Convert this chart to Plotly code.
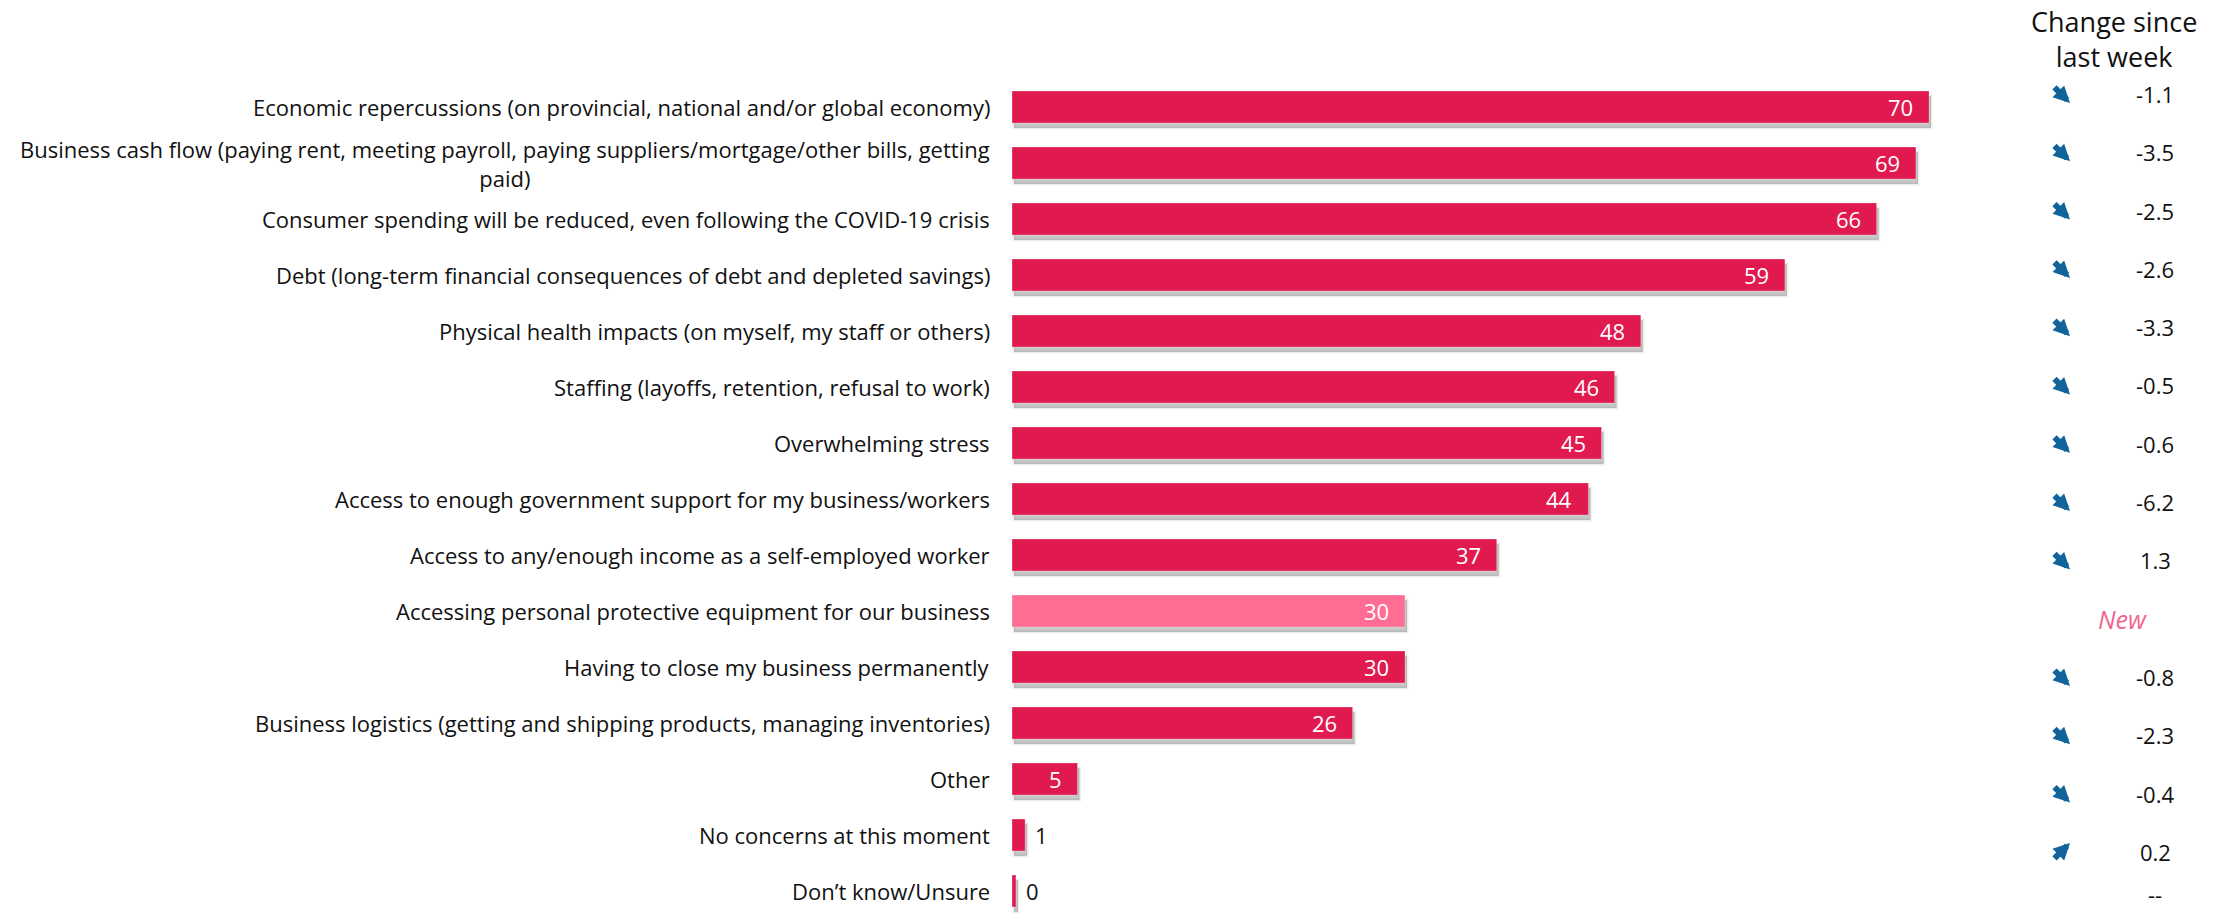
import plotly.graph_objects as go

# ---- data -------------------------------------------------------------
concerns = [
    "Economic repercussions (on provincial, national and/or global economy)",
    "Business cash flow (paying rent, meeting payroll, paying suppliers/mortgage/other bills, getting<br>paid)",
    "Consumer spending will be reduced, even following the COVID-19 crisis",
    "Debt (long-term financial consequences of debt and depleted savings)",
    "Physical health impacts (on myself, my staff or others)",
    "Staffing (layoffs, retention, refusal to work)",
    "Overwhelming stress",
    "Access to enough government support for my business/workers",
    "Access to any/enough income as a self-employed worker",
    "Accessing personal protective equipment for our business",
    "Having to close my business permanently",
    "Business logistics (getting and shipping products, managing inventories)",
    "Other",
    "No concerns at this moment",
    "Don\u2019t know/Unsure",
]
shares = [70, 69, 66, 59, 48, 46, 45, 44, 37, 30, 30, 26, 5, 1, 0.3]
is_new = [False] * 9 + [True] + [False] * 5
change = [-1.1, -3.5, -2.5, -2.6, -3.3, -0.5, -0.6, -6.2, 1.3, None,
          -0.8, -2.3, -0.4, 0.2, None]
trend = ["down"] * 9 + [None] + ["down"] * 3 + ["up"] + [None]

# ---- styling ----------------------------------------------------------
RED = "#E0194F"
PINK = "#FF6E92"
ARROW = "#10649A"
FONT = "Open Sans"

W, H = 2226, 913
M_L, M_T = 1012, 79
plot_w = W - M_L
plot_h = H - M_T
XMAX = 92.67                     # x units across the plot area
px_x = plot_w / XMAX
Y_TOP, Y_BOT = -0.5, -0.5 + plot_h / 56.0   # 56 px per row

bar_colors = [PINK if nw else RED for nw in is_new]
labels = [f"{v:.0f}" for v in shares]

fig = go.Figure()

# soft drop shadow, drawn on the base axes (shifted a few px)
fig.add_trace(go.Bar(
    x=shares, y=concerns, orientation="h",
    marker=dict(color="rgba(0,0,0,0.22)",
                line=dict(color="rgba(0,0,0,0.07)", width=3)),
    hoverinfo="skip", showlegend=False, xaxis="x", yaxis="y",
))
# main bars on the overlaid axes
fig.add_trace(go.Bar(
    x=shares, y=concerns, orientation="h",
    marker=dict(color=bar_colors, line=dict(color="rgba(255,255,255,0.25)", width=1)),
    showlegend=False, xaxis="x2", yaxis="y2",
))

ann = []
# category labels, right aligned against the bars, multi-line centred
for c in concerns:
    ann.append(dict(x=0, y=c, xref="x2", yref="y2", text=c, showarrow=False,
                    xanchor="right", yanchor="middle", xshift=-20, align="center",
                    font=dict(family=FONT, size=22, color="#111111")))
# value labels
for c, v, t in zip(concerns, shares, labels):
    if v >= 3:
        ann.append(dict(x=v, y=c, xref="x2", yref="y2", text=t, showarrow=False,
                        xanchor="right", yanchor="middle", xshift=-14,
                        font=dict(family=FONT, size=22, color="white")))
    else:
        ann.append(dict(x=v, y=c, xref="x2", yref="y2", text=t, showarrow=False,
                        xanchor="left", yanchor="middle", xshift=8,
                        font=dict(family=FONT, size=22, color="#111111")))

# change-since-last-week column
def px_to_paper_x(px):
    return (px - M_L) / plot_w

ann.append(dict(x=px_to_paper_x(2114), y=1 + 40 / plot_h, xref="paper", yref="paper",
                text="Change since<br>last week", showarrow=False,
                xanchor="center", yanchor="middle", align="center",
                font=dict(family=FONT, size=27, color="#111111")))
for i, (ch, tr, nw) in enumerate(zip(change, trend, is_new)):
    if nw:
        ann.append(dict(x=px_to_paper_x(2122), y=i, xref="paper", yref="y3",
                        text="<i>New</i>", showarrow=False, xanchor="center",
                        yanchor="middle",
                        font=dict(family=FONT, size=25, color="#F0668F")))
        continue
    if ch is None:
        ann.append(dict(x=px_to_paper_x(2155), y=i, xref="paper", yref="y3",
                        text="--", showarrow=False, xanchor="center", yanchor="bottom",
                        yshift=-1,
                        font=dict(family=FONT, size=22, color="#111111")))
    else:
        ann.append(dict(x=px_to_paper_x(2155), y=i, xref="paper", yref="y3",
                        text=f"{ch:.1f}", showarrow=False, xanchor="center",
                        yanchor="middle",
                        font=dict(family=FONT, size=22, color="#111111")))
    if tr is not None:
        dy = -1 if tr == "down" else 1       # head below / above the centre
        ann.append(dict(x=px_to_paper_x(2061), y=i, xref="paper", yref="y3",
                        xshift=9, yshift=9 * dy, text="", showarrow=True,
                        ax=-17, ay=17 * dy, arrowhead=2, arrowsize=0.55,
                        arrowwidth=6, arrowcolor=ARROW, standoff=0, startstandoff=0))

sx = 2 / px_x          # shadow offsets in axis units
sy = 5 / 56.0
hidden = dict(visible=False, showgrid=False, zeroline=False, fixedrange=True)

fig.update_layout(
    width=W, height=H,
    margin=dict(l=M_L, r=0, t=M_T, b=0),
    paper_bgcolor="white", plot_bgcolor="white",
    bargap=0.43,
    xaxis=dict(range=[-sx, XMAX - sx], **hidden),
    yaxis=dict(range=[Y_BOT - sy, Y_TOP - sy], type="category",
               categoryorder="array", categoryarray=concerns, **hidden),
    xaxis2=dict(range=[0, XMAX], overlaying="x", **hidden),
    yaxis2=dict(range=[Y_BOT, Y_TOP], type="category", overlaying="y",
                categoryorder="array", categoryarray=concerns, **hidden),
    yaxis3=dict(range=[14.048, -0.257], type="linear", overlaying="y", **hidden),
    annotations=ann,
    font=dict(family=FONT),
)

fig.write_html("out.html")
